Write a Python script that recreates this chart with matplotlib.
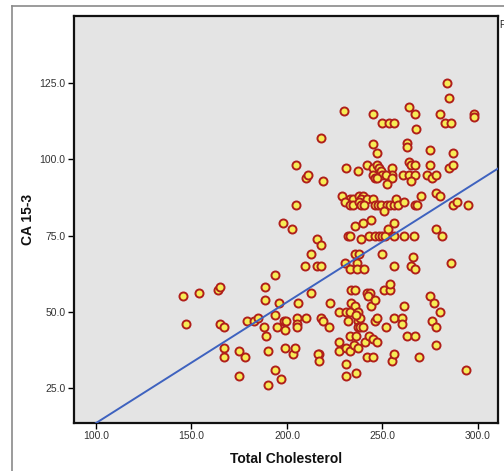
import matplotlib
matplotlib.use("Agg")
import matplotlib.pyplot as plt
from matplotlib.lines import Line2D
import numpy as np

plt.rcParams['font.family'] = ['Liberation Sans', 'DejaVu Sans']

# Total Cholesterol (x) and CA 15-3 (y)
chol_left = [145.6, 147, 153.8, 163.8, 164.8, 165, 167, 167, 167, 175, 175, 178, 179, 183, 185,
             188, 189, 188.7, 188.7, 190, 190, 193.8, 194, 195, 195.7, 194, 197, 197.8, 198.7,
             199.7, 199, 199, 202.9, 203, 204, 204.8, 204.8, 205, 205, 205, 205.9, 209.7, 209.9,
             210.9, 210, 212.7, 212.8, 215.6, 217.7, 215.8, 217.7, 217.7, 218.8, 217, 216, 217,
             217.7, 219, 222, 222.7]
ca_left = [55, 46, 56, 57, 58, 46, 45, 38, 35, 37, 29, 35, 47, 47, 48,
           45, 42, 58, 54, 37, 26, 62, 49, 45, 53, 31, 28, 79, 47,
           47, 44, 38, 77, 36, 38, 98, 85, 48, 46, 45, 53, 65, 94,
           95, 48, 69, 56, 74, 72, 65, 65, 107, 93, 36, 36, 34,
           48, 47, 45, 53]

chol_mid = [229.8, 245, 249.8, 253.6, 255.8, 263.8, 266.8, 267.8, 279.9, 282.8, 286, 297.9, 297.9,
            245, 246.9, 262.7, 262.7, 275, 286.7, 284, 285,
            231, 237, 242, 244.8, 246.9, 248, 244.8, 245.9, 249, 250, 247.4, 254.8, 254.8, 251.7,
            254.8, 252.2, 260.8, 263.8, 266.8, 264.9, 263.8, 264.9, 266.8, 275, 273.5, 276, 278,
            284.8, 286.7,
            228.7, 232.8, 234.8, 237.8, 239.7, 238.9, 241.8, 244.8, 230.5, 233.1, 234.8, 237.8,
            238.9, 240.4, 245.9, 247.5, 249, 252.2, 253.8, 255.9, 257, 258, 261.2, 250.6, 266.8,
            268, 270, 278, 280, 286.7, 289, 295,
            235.7, 239.7, 243.8, 232.1, 233.1, 238.7, 242.9, 245.9, 248, 250, 251.2, 252.9, 255.9,
            256.3, 261.2, 266.4, 278, 281,
            230.5, 235.7, 237.8, 236.6, 232.8, 236.6, 240.4, 249.9, 255.9, 265, 266.8, 266, 286,
            233.7, 235.7, 241.8, 243.5, 242.6, 244, 245.9, 250.6, 253.8, 253.8, 261.2, 275, 277,
            280, 233.7, 235.7,
            227, 231, 233, 237, 232, 237, 238, 237, 238, 240, 236, 246, 247, 252, 256, 260, 260,
            263, 267, 276, 278, 227, 227, 231, 233, 235, 237, 233, 236, 241, 243, 245, 247,
            231, 231, 236, 242, 245, 255, 256, 269, 278, 294]
ca_mid = [116, 115, 112, 112, 112, 117, 115, 110, 115, 112, 112, 115, 114,
          105, 102, 105.5, 104, 103, 102, 125, 120,
          97, 96, 98, 97, 98, 97, 95, 94, 96, 95, 94, 97, 95, 95,
          94, 92, 95, 95, 95, 93, 99, 98, 98, 98, 95, 94, 95,
          97, 98,
          88, 87, 87, 88, 88, 87, 87, 87, 86, 85, 85, 86,
          85, 85, 85, 85, 85, 85, 85, 85, 87, 85, 86, 83, 85,
          85, 88, 89, 88, 85, 86, 85,
          78, 79, 80, 75, 75, 74, 75, 75, 75, 75, 75, 77, 79,
          75, 75, 75, 77, 75,
          66, 69, 69, 66, 64, 64, 64, 69, 65, 65, 64, 68, 66,
          57, 57, 56, 56, 55, 52, 54, 57, 57, 59, 52, 55, 53,
          50, 53, 52,
          50, 50, 50, 50, 47, 47, 48, 45, 45, 45, 49, 47, 48, 45, 48, 48, 46,
          42, 42, 47, 45, 40, 37, 38, 37, 39, 38, 42, 42, 40, 42, 41, 40,
          33, 29, 30, 35, 35, 34, 36, 35, 39, 31]

cholesterol = chol_left + chol_mid
ca153 = ca_left + ca_mid

# fit line
fit_intercept = -26.2
fit_slope = 0.3967

x_ticks = [100, 150, 200, 250, 300]
y_ticks = [25, 50, 75, 100, 125]
x_lim = (88.5, 310.5)
y_lim = (13.5, 147)

W, H = 504, 471
fig = plt.figure(figsize=(W / 100, H / 100), dpi=100)

# outer gray frame
fig.add_artist(Line2D([12 / W, 12 / W], [0, 1 - 6 / H], transform=fig.transFigure,
                      color='#8a8a8a', lw=1.2))
fig.add_artist(Line2D([12 / W, 1], [1 - 6 / H, 1 - 6 / H], transform=fig.transFigure,
                      color='#8a8a8a', lw=1.2))

ax = fig.add_axes([74 / W, 48 / H, 424 / W, 407 / H])
ax.set_facecolor('#e4e4e4')

ax.plot(cholesterol, ca153, linestyle='none', marker='o', markersize=5.8,
        markeredgewidth=1.4, markeredgecolor='#b01f1a', markerfacecolor='#f7ec55', zorder=3)

lx = np.array(x_lim)
ax.plot(lx, fit_intercept + fit_slope * lx, color='#3e62bf', lw=1.4, zorder=4)

ax.set_xlim(*x_lim)
ax.set_ylim(*y_lim)
ax.set_xticks(x_ticks)
ax.set_yticks(y_ticks)
ax.set_xticklabels([f"{v:.1f}" for v in x_ticks])
ax.set_yticklabels([f"{v:.1f}" for v in y_ticks])
ax.tick_params(axis='both', direction='out', length=4, width=1, labelsize=7.5,
               labelcolor='#333333', pad=2)
for s in ax.spines.values():
    s.set_linewidth(1.6)
    s.set_color('#111111')

ax.set_xlabel('Total Cholesterol', fontsize=10, fontweight='bold', labelpad=8, color='#111111')
ax.set_ylabel('CA 15-3', fontsize=10, fontweight='bold', labelpad=3, color='#111111')

fig.text(499 / W, 1 - 25 / H, 'F', fontsize=7, ha='left', va='center', color='#222222')

fig.savefig('out.png', dpi=100)
